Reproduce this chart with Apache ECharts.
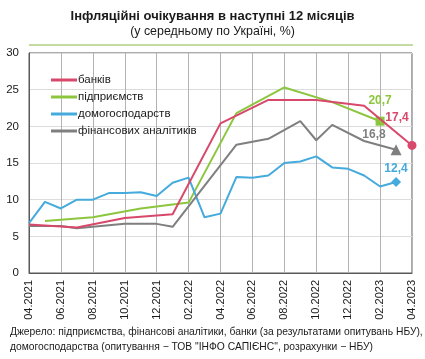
<!DOCTYPE html>
<html>
<head>
<meta charset="utf-8">
<script src="https://cdn.jsdelivr.net/npm/echarts@6/dist/echarts.min.js"></script>
<style>html,body{margin:0;padding:0;background:#fff;}#c{width:425px;height:359px;}</style>
</head>
<body>
<div id="c"></div>
<script>
var months = ['04.2021','05.2021','06.2021','07.2021','08.2021','09.2021','10.2021','11.2021','12.2021','01.2022','02.2022','03.2022','04.2022','05.2022','06.2022','07.2022','08.2022','09.2022','10.2022','11.2022','12.2022','01.2023','02.2023','03.2023','04.2023'];
var yTicks = [0, 5, 10, 15, 20, 25, 30];
var seriesNames = ['банків', 'підприємств', 'домогосподарств', 'фінансових аналітиків'];
var banks = [6.6,null,null,6.2,null,null,7.5,null,null,8.0,null,null,20.4,null,null,23.6,null,null,23.6,null,null,22.8,null,null,17.4];
var enterprises = [null,7.1,null,null,7.6,null,null,8.8,null,null,9.6,null,null,21.8,null,null,25.3,null,null,23.3,null,null,20.7,null,null];
var households = [6.8,9.7,8.8,10.0,10.0,10.9,10.9,11.0,10.5,12.3,13.0,7.6,8.1,13.1,13.0,13.3,15.0,15.2,15.9,14.4,14.2,13.3,11.8,12.4,null];
var analysts = [6.4,null,6.4,6.1,null,6.5,6.7,null,6.7,6.3,null,null,null,17.5,null,18.3,null,20.7,18.1,20.2,null,18.0,null,16.8,null];

var FONT = 'Liberation Sans, Arial, sans-serif';
var colors = ['#d8486a', '#8cc63e', '#45aadc', '#7f7f7f'];
var endSymbols = ['circle', 'rect', 'diamond', 'triangle'];
var endSizes = [9, 9, 10, 11];
var labelOffsets = [[-15, -28], [0, -21], [0, -13], [-22, -15]];

function buildData(arr, idx) {
  var last = -1;
  for (var i = arr.length - 1; i >= 0; i--) { if (arr[i] != null) { last = i; break; } }
  return arr.map(function (v, i) {
    if (i !== last) return v;
    return {
      value: v,
      symbol: endSymbols[idx],
      symbolSize: endSizes[idx],
      label: {
        show: true,
        position: 'inside',
        offset: labelOffsets[idx],
        formatter: function (p) { return String(p.value).replace('.', ','); },
        color: colors[idx],
        fontFamily: FONT,
        fontSize: 12,
        fontWeight: 'bold'
      }
    };
  });
}

var arrays = [banks, enterprises, households, analysts];
var series = arrays.map(function (arr, idx) {
  return {
    name: seriesNames[idx],
    type: 'line',
    data: buildData(arr, idx),
    connectNulls: true,
    symbol: 'none',
    showSymbol: true,
    lineStyle: { color: colors[idx], width: 2 },
    itemStyle: { color: colors[idx] },
    z: idx === 0 ? 5 : 3,
    animation: false
  };
});

var chart = echarts.init(document.getElementById('c'), null, { renderer: 'canvas' });
chart.setOption({
  animation: false,
  backgroundColor: '#fff',
  color: colors,
  title: {
    text: 'Інфляційні очікування в наступні 12 місяців',
    subtext: '(у середньому по Україні, %)',
    left: 'center',
    top: 5,
    itemGap: 3,
    textStyle: { fontFamily: FONT, fontSize: 13, fontWeight: 'bold', color: '#1a1a1a' },
    subtextStyle: { fontFamily: FONT, fontSize: 12.4, color: '#1a1a1a' }
  },
  legend: {
    orient: 'vertical',
    left: 46,
    top: 69,
    itemWidth: 26,
    itemHeight: 3,
    itemGap: 5,
    icon: 'rect',
    data: seriesNames,
    textStyle: { fontFamily: FONT, fontSize: 11.5, color: '#1a1a1a', padding: [0, 0, 0, -4] }
  },
  grid: {
    left: 29, right: 13, top: 53, bottom: 86,
    show: true, borderColor: '#595959', borderWidth: 1,
    containLabel: false
  },
  xAxis: {
    type: 'category',
    data: months,
    boundaryGap: false,
    axisLine: { lineStyle: { color: '#595959', width: 1 } },
    axisTick: { show: false, interval: 1 },
    axisLabel: { interval: 1, rotate: 90, margin: 7, fontFamily: FONT, fontSize: 11, color: '#1a1a1a' },
    splitLine: { show: true, interval: 1, lineStyle: { color: '#b3b3b3', width: 1 } }
  },
  yAxis: {
    type: 'value',
    min: yTicks[0],
    max: yTicks[yTicks.length - 1],
    interval: 5,
    axisLine: { show: true, lineStyle: { color: '#595959' } },
    axisTick: { show: false },
    axisLabel: { margin: 10, fontFamily: FONT, fontSize: 11.5, color: '#1a1a1a' },
    splitLine: { show: true, lineStyle: { color: '#dcdcdc', width: 1 } }
  },
  graphic: [
    { type: 'line', shape: { x1: 29, y1: 45, x2: 413, y2: 45 }, style: { stroke: '#c3dba0', lineWidth: 2 } },
    { type: 'text', left: 10, top: 327, style: { text: 'Джерело: підприємства, фінансові аналітики, банки (за результатами опитувань НБУ),', font: '10.3px Liberation Sans, Arial, sans-serif', fill: '#1a1a1a' } },
    { type: 'text', left: 10, top: 342, style: { text: 'домогосподарства (опитування − ТОВ "ІНФО САПІЄНС", розрахунки − НБУ)', font: '10.3px Liberation Sans, Arial, sans-serif', fill: '#1a1a1a' } }
  ],
  series: series
});
</script>
</body>
</html>
